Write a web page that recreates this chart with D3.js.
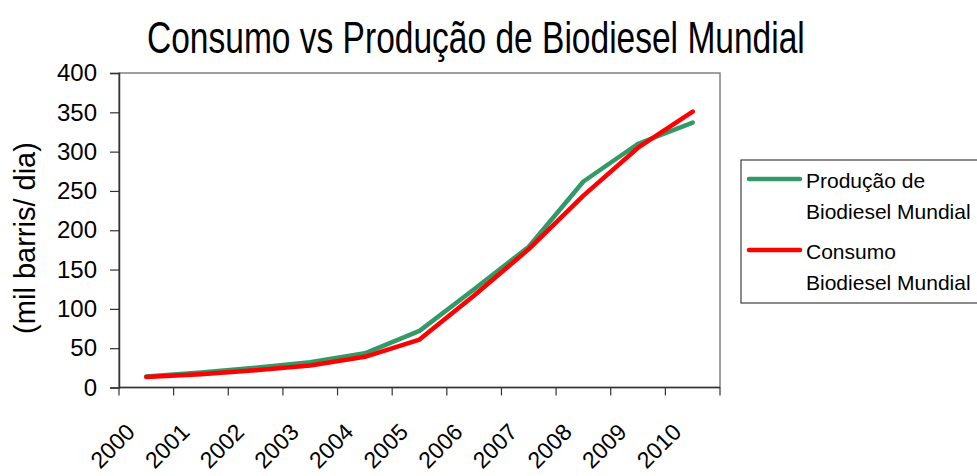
<!DOCTYPE html>
<html>
<head>
<meta charset="utf-8">
<script src="https://cdn.jsdelivr.net/npm/d3@7"></script>
<style>
  body { margin: 0; background: #fff; }
  svg { font-family: "Liberation Sans", Arial, sans-serif; }
</style>
</head>
<body>
<div id="chart"></div>
<script>
const years = ['2000','2001','2002','2003','2004','2005','2006','2007','2008','2009','2010'];
const producao = [14, 19, 25, 32, 43.5, 72, 125, 179, 262, 310, 337];
const consumo = [13.3, 17, 22, 28, 39, 61, 117, 176, 244, 305, 351];
const yTicks = [0, 50, 100, 150, 200, 250, 300, 350, 400];
const seriesNames = [['Produção de', 'Biodiesel Mundial'], ['Consumo', 'Biodiesel Mundial']];
const seriesColors = ['#339966', '#ff0000'];

let drawChart = () => {
  const W = 977, H = 476;
  const margin = {top: 73, left: 119};
  const width = 601;
  const height = 314.5;

  const svg = d3.select('#chart').append('svg')
    .attr('width', W)
    .attr('height', H);

  // title, squeezed horizontally like the original
  svg.append('text')
    .attr('transform', 'translate(147,53) scale(0.762,1)')
    .style('font-size', '44px')
    .text('Consumo vs Produção de Biodiesel Mundial');

  const g = svg.append('g')
    .attr('transform', 'translate(' + margin.left + ',' + margin.top + ')');

  const x = d3.scaleBand()
    .domain(years)
    .range([0, width]);

  const y = d3.scaleLinear()
    .domain([0, 400])
    .range([height, 0]);

  // plot box (top/right)
  g.append('rect')
    .attr('x', 0)
    .attr('y', 0)
    .attr('width', width)
    .attr('height', height)
    .attr('fill', 'none')
    .attr('stroke', '#808080')
    .attr('stroke-width', 1.5);

  // y axis
  const yAxis = g.append('g')
    .call(d3.axisLeft(y).tickValues(yTicks).tickSize(9).tickPadding(13));
  yAxis.select('.domain').attr('stroke', '#333').attr('stroke-width', 1.5);
  yAxis.selectAll('.tick line').attr('stroke', '#333').attr('stroke-width', 1.2);
  yAxis.selectAll('.tick text')
    .style('font-size', '24px')
    .attr('fill', '#000')
    .attr('font-family', '"Liberation Sans", Arial, sans-serif');

  // x axis: ticks between categories
  const xAxisG = g.append('g')
    .attr('transform', 'translate(0,' + height + ')');
  xAxisG.append('line')
    .attr('x1', 0).attr('x2', width)
    .attr('stroke', '#333').attr('stroke-width', 1.5);
  const bounds = years.map(d => x(d)).concat([width]);
  xAxisG.selectAll('.xtick')
    .data(bounds)
    .enter().append('line')
    .attr('class', 'xtick')
    .attr('x1', d => d).attr('x2', d => d)
    .attr('y1', 0).attr('y2', 8)
    .attr('stroke', '#333').attr('stroke-width', 1.2);
  xAxisG.selectAll('.xlabel')
    .data(years)
    .enter().append('text')
    .attr('class', 'xlabel')
    .attr('text-anchor', 'end')
    .attr('transform', d => 'translate(' + (x(d) + x.bandwidth() / 2 - 10) + ',46) rotate(-45)')
    .style('font-size', '23px')
    .text(d => d);

  // y title
  svg.append('text')
    .attr('text-anchor', 'middle')
    .attr('transform', 'translate(35,238) rotate(-90)')
    .style('font-size', '29px')
    .text('(mil barris/ dia)');

  // lines
  const line = d3.line()
    .x((d, i) => x(years[i]) + x.bandwidth() / 2)
    .y(d => y(d));

  [producao, consumo].forEach((s, k) => {
    g.append('path')
      .datum(s)
      .attr('fill', 'none')
      .attr('stroke', seriesColors[k])
      .attr('stroke-width', 4.5)
      .attr('stroke-linecap', 'round')
      .attr('stroke-linejoin', 'round')
      .attr('d', line);
  });

  // legend
  const lg = svg.append('g');
  lg.append('rect')
    .attr('x', 741).attr('y', 160)
    .attr('width', 270).attr('height', 143)
    .attr('fill', '#fff')
    .attr('stroke', '#404040')
    .attr('stroke-width', 1.2);
  seriesNames.forEach((names, k) => {
    const top = 188 + k * 71;
    lg.append('line')
      .attr('x1', 749).attr('x2', 800)
      .attr('y1', top - 9).attr('y2', top - 9)
      .attr('stroke', seriesColors[k])
      .attr('stroke-width', 4.5)
      .attr('stroke-linecap', 'round');
    names.forEach((t, j) => {
      lg.append('text')
        .attr('x', 806)
        .attr('y', top + j * 31)
        .style('font-size', '21px')
        .text(t);
    });
  });
};

drawChart();
</script>
</body>
</html>
